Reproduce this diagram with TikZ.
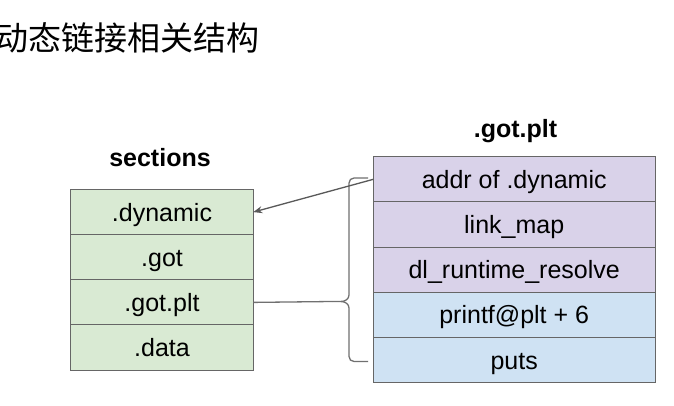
\documentclass[tikz,border=0pt]{standalone}
\usepackage{fontspec}
\setmainfont{Liberation Sans}
\newfontfamily\cjk{Noto Sans CJK SC}
\usetikzlibrary{arrows.meta}
\definecolor{secgreen}{HTML}{D9EAD3}
\definecolor{gotpurple}{HTML}{D9D2E9}
\definecolor{gotblue}{HTML}{CFE2F3}
\definecolor{cellborder}{HTML}{666666}
\definecolor{arrowgray}{HTML}{595959}
\definecolor{bracegray}{HTML}{707070}
\tikzset{
  cellbase/.style={draw=cellborder, line width=1pt, inner sep=0pt, outer sep=0pt,
    font=\fontsize{25}{30}\selectfont, text height=18pt, text depth=0pt},
  leftcell/.style={cellbase, fill=secgreen, minimum width=182.6pt, minimum height=45.15pt},
  purplecell/.style={cellbase, fill=gotpurple, minimum width=281.7pt, minimum height=45.2pt},
  bluecell/.style={cellbase, fill=gotblue, minimum width=281.7pt, minimum height=45.2pt},
  tabtitle/.style={font=\fontsize{25}{30}\selectfont\bfseries, inner sep=0pt, anchor=base},
  pointer/.style={draw=arrowgray, line width=1.3pt, -{Stealth[length=9pt,width=7pt]}},
  bracestyle/.style={draw=bracegray, line width=1.3pt},
}
\begin{document}
\begin{tikzpicture}[x=1pt,y=-1pt]
\useasboundingbox[fill=white] (0,0) rectangle (674,406);
% title
\node[anchor=base west, inner sep=0pt, font=\cjk\fontsize{33}{38}\selectfont] (title) at (-5,51) {动态链接相关结构};
% left table
\node[tabtitle] (sectitle) at (160,167) {sections};
\node[leftcell] (dyn) at (162,212.1) {.dynamic};
\node[leftcell] (got) at (162,257.2) {.got};
\node[leftcell] (gotplt) at (162,302.4) {.got.plt};
\node[leftcell] (data) at (162,347.5) {.data};
% right table
\node[tabtitle] (plttitle) at (515.5,138) {.got.plt};
\node[purplecell] (addr) at (514.2,179.3) {addr of .dynamic};
\node[purplecell] (lmap) at (514.2,224.5) {link\_map};
\node[purplecell] (dlr) at (514.2,269.7) {dl\_runtime\_resolve};
\node[bluecell] (printf) at (514.2,314.9) {printf@plt + 6};
\node[bluecell] (puts) at (514.2,360.1) {puts};
% brace
\coordinate (btop) at (368,178);
\coordinate (btip) at (332,301.5);
\coordinate (bbot) at (368,361.5);
\draw[bracestyle] (btop) -- (354,178) to[out=180,in=90] (349,183) -- (349,295)
  to[out=270,in=0] (341,301.5) -- (btip);
\draw[bracestyle] (341,301.5) to[out=0,in=90] (349,308) -- (349,356.5)
  to[out=270,in=180] (354,361.5) -- (bbot);
% connectors
\draw[bracestyle] (gotplt.east) -- (btip);
\draw[pointer] (addr.west) -- (dyn.east);
\end{tikzpicture}
\end{document}
